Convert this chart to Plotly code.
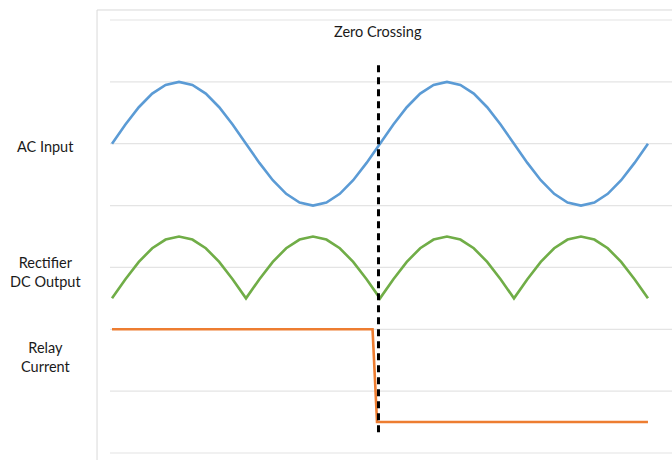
import plotly.graph_objects as go

# x positions in degrees of the AC cycle
x_deg = [0, 18, 36, 54, 72, 90, 108, 126, 144, 162, 180, 198, 216, 234, 252, 270, 288, 306, 324, 342,
         360, 378, 396, 414, 432, 450, 468, 486, 504, 522, 540, 558, 576, 594, 612, 630, 648, 666, 684, 702, 720]

ac_input = [5.0, 5.31, 5.59, 5.81, 5.95, 6.0, 5.95, 5.81, 5.59, 5.31,
            5.0, 4.69, 4.41, 4.19, 4.05, 4.0, 4.05, 4.19, 4.41, 4.69,
            5.0, 5.31, 5.59, 5.81, 5.95, 6.0, 5.95, 5.81, 5.59, 5.31,
            5.0, 4.69, 4.41, 4.19, 4.05, 4.0, 4.05, 4.19, 4.41, 4.69, 5.0]

rectifier_dc = [2.5, 2.81, 3.09, 3.31, 3.45, 3.5, 3.45, 3.31, 3.09, 2.81,
                2.5, 2.81, 3.09, 3.31, 3.45, 3.5, 3.45, 3.31, 3.09, 2.81,
                2.5, 2.81, 3.09, 3.31, 3.45, 3.5, 3.45, 3.31, 3.09, 2.81,
                2.5, 2.81, 3.09, 3.31, 3.45, 3.5, 3.45, 3.31, 3.09, 2.81, 2.5]

relay_x = [0, 350, 356, 720]
relay_current = [2.0, 2.0, 0.5, 0.5]

zero_cross_x = [358, 358]
zero_cross_y = [6.27, 0.275]

grid_values = [0, 1, 2, 3, 4, 5, 6, 7]

row_labels = ["AC Input", "Rectifier<br>DC Output", "Relay<br>Current"]
row_label_y = [0.706, 0.418, 0.223]

FONT = "Lato, 'Open Sans', Arial, sans-serif"

fig = go.Figure()
fig.add_trace(go.Scatter(x=x_deg, y=ac_input, mode="lines",
                         line=dict(color="#5b9bd5", width=2.6), name="AC Input"))
fig.add_trace(go.Scatter(x=x_deg, y=rectifier_dc, mode="lines",
                         line=dict(color="#70ad47", width=2.6), name="Rectifier DC Output"))
fig.add_trace(go.Scatter(x=relay_x, y=relay_current, mode="lines",
                         line=dict(color="#ed7d31", width=2.6), name="Relay Current"))
fig.add_trace(go.Scatter(x=zero_cross_x, y=zero_cross_y, mode="lines",
                         line=dict(color="black", width=3, dash="7px,5px"), name="Zero Crossing"))

# horizontal gridlines
for g in grid_values:
    fig.add_shape(type="line", xref="paper", yref="y", x0=0, x1=1, y0=g, y1=g,
                  line=dict(color="#e4e4e4", width=1.2), layer="below")

# chart area border (left and top)
fig.add_shape(type="line", xref="paper", yref="paper", x0=-0.0231, x1=1.05, y0=1.0207, y1=1.0207,
              line=dict(color="#d9d9d9", width=1))
fig.add_shape(type="line", xref="paper", yref="paper", x0=-0.0231, x1=-0.0231, y0=1.0207, y1=-0.05,
              line=dict(color="#d9d9d9", width=1))

for lab, yy in zip(row_labels, row_label_y):
    fig.add_annotation(text=lab, xref="paper", yref="paper", x=-0.1139, y=yy,
                       showarrow=False, xanchor="center", yanchor="middle",
                       font=dict(family=FONT, size=14.5, color="#1a1a1a"))

fig.add_annotation(text="Zero Crossing", xref="x", yref="paper", x=358, y=0.972,
                   showarrow=False, xanchor="center", yanchor="middle",
                   font=dict(family=FONT, size=14.5, color="#1a1a1a"))

fig.update_layout(
    width=672, height=460,
    margin=dict(l=110, r=0, t=19, b=6),
    paper_bgcolor="white", plot_bgcolor="white",
    showlegend=False,
    hovermode=False,
    xaxis=dict(range=[-2.7, 752.3], showgrid=False, showticklabels=False, zeroline=False,
               showline=False, ticks=""),
    yaxis=dict(range=[-0.0162, 7.0162], showgrid=False, showticklabels=False, zeroline=False,
               showline=False, ticks=""),
)

fig.write_html("out.html", config={"displayModeBar": False},
               post_script="document.body.style.margin='0';document.body.style.overflow='hidden';")
